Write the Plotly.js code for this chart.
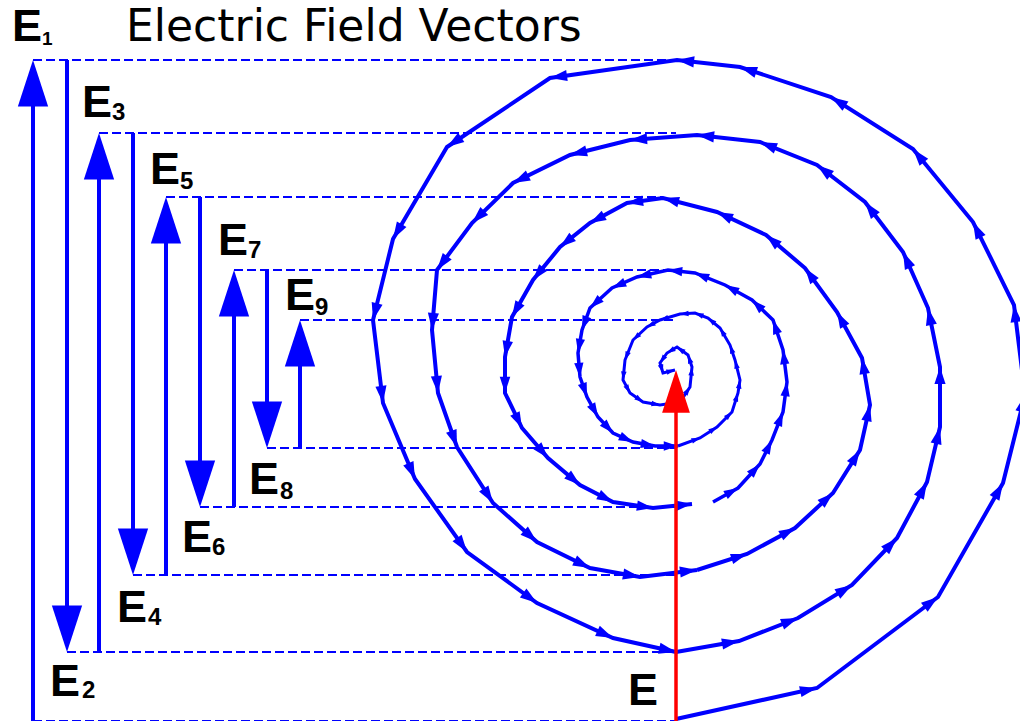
<!DOCTYPE html>
<html><head><meta charset="utf-8">
<script src="https://cdn.plot.ly/plotly-3.0.1.min.js"></script>
<style>html,body{margin:0;padding:0;background:#fff}#chart{width:1020px;height:721px}</style>
</head><body><div id="chart"></div>
<script>
// ---- data (diagram coordinates, pixel-like units) ----
const titleText = 'Electric Field Vectors';
const fieldNames = ['1', '2', '3', '4', '5', '6', '7', '8', '9'];
const fieldColumnX = [33, 67, 99, 133, 166, 200, 234, 267, 300];
const fieldLevels = [721, 60, 652, 133, 575, 197, 507, 270, 448, 320];
const projectionEndX = [677, 676, 676, 676, 663, 676, 668, 676, 676];
const spiralAxisX = 676;

const loop1X = [676, 817, 938, 1003, 1025, 1014, 973, 913, 831, 740, 677, 550, 447, 393, 373, 383, 415, 467, 537, 613, 676];
const loop1Y = [719, 688, 597, 483, 395, 305, 222, 149, 97, 67, 60, 78, 147, 239, 320, 403, 479, 552, 603, 638, 652];
const loop2X = [676, 739, 798, 852, 897, 927, 940, 940, 928, 903, 865, 817, 760, 697, 630, 570, 513, 472, 437, 432, 438, 457, 493, 537, 590, 640, 697];
const loop2Y = [652, 641, 618, 585, 538, 482, 427, 367, 308, 252, 202, 165, 142, 135, 140, 155, 183, 223, 270, 330, 393, 447, 503, 542, 568, 577, 570];
const loop3X = [697, 747, 795, 833, 860, 870, 862, 837, 805, 766, 717, 663, 627, 590, 560, 533, 512, 505, 505, 522, 548, 580, 613, 653, 692];
const loop3Y = [570, 554, 528, 493, 450, 405, 358, 312, 268, 235, 212, 198, 203, 223, 247, 280, 317, 357, 393, 428, 458, 485, 502, 508, 504];
const loop4X = [713, 738, 760, 772, 783, 787, 783, 773, 752, 725, 695, 668, 637, 612, 590, 582, 578, 580, 587, 598, 613, 633, 655, 678];
const loop4Y = [502, 488, 464, 440, 412, 382, 350, 320, 300, 285, 273, 270, 277, 288, 308, 330, 353, 377, 397, 417, 433, 442, 446, 446];
const loop5X = [678, 700, 717, 732, 738, 740, 735, 730, 720, 708, 695, 680, 660, 647, 633, 625, 623, 630, 643, 660, 680, 690, 692, 688, 677, 667, 660, 663, 675];
const loop5Y = [446, 438, 427, 412, 393, 380, 360, 345, 328, 318, 313, 314, 320, 327, 340, 360, 380, 393, 402, 405, 402, 387, 367, 355, 347, 353, 363, 373, 370];

const resultantX = [676, 676];
const resultantY = [721, 370];

// label placement (centres of the letter E and of the index digit)
const labelEX = [27, 65, 96.5, 131.5, 165, 196.5, 233, 263.5, 300];
const labelEY = [25.5, 680, 101, 606.5, 168.5, 536.5, 239, 478.5, 294.5];
const labelDX = [47.5, 88.5, 118.5, 154.5, 186.5, 218.5, 254, 286, 321.5];
const labelDY = [38, 689, 111.5, 616, 180, 546, 249, 490, 306];

// ---- drawing ----
const BLUE = '#0000ff';
const FONT = 'Liberation Sans, Arial, Helvetica, sans-serif';
const traces = [];

// dashed projection lines
for (let i = 0; i < fieldColumnX.length; i++) {
  traces.push({x: [fieldColumnX[i], projectionEndX[i]], y: [fieldLevels[i + 1], fieldLevels[i + 1]],
    mode: 'lines', line: {color: BLUE, width: 2, dash: '9px,4px'}, hoverinfo: 'skip'});
}
traces.push({x: [fieldColumnX[0], spiralAxisX], y: [fieldLevels[0], fieldLevels[0]],
  mode: 'lines', line: {color: BLUE, width: 2, dash: '9px,4px'}, hoverinfo: 'skip'});

// field vectors E1..E9
for (let i = 0; i < fieldColumnX.length; i++) {
  traces.push({x: [fieldColumnX[i], fieldColumnX[i]], y: [fieldLevels[i], fieldLevels[i + 1]],
    mode: 'lines+markers', line: {color: BLUE, width: 4},
    marker: {symbol: 'arrow', angleref: 'previous', size: 49, color: BLUE, line: {width: 0}},
    hoverinfo: 'skip'});
}

// spiral
const loops = [[loop1X, loop1Y, 4, 18], [loop2X, loop2Y, 4, 18], [loop3X, loop3Y, 4, 17],
               [loop4X, loop4Y, 3.5, 15], [loop5X, loop5Y, 3, 9]];
loops.forEach(([lx, ly, w, s]) => {
  traces.push({x: lx, y: ly, mode: 'lines+markers', line: {color: BLUE, width: w, backoff: 0},
    marker: {symbol: 'arrow', angleref: 'previous', size: s, color: BLUE, line: {width: 0}},
    hoverinfo: 'skip'});
});

// resultant E (red)
traces.push({x: resultantX, y: resultantY, mode: 'lines+markers', line: {color: '#ff0000', width: 3.5},
  marker: {symbol: 'arrow', angleref: 'previous', size: 45, color: '#ff0000', line: {width: 0}},
  hoverinfo: 'skip'});

const annotations = [];
annotations.push({x: 124, y: 25.5, xref: 'x', yref: 'y', xanchor: 'left', yanchor: 'middle',
  text: titleText, showarrow: false, font: {family: 'DejaVu Sans, sans-serif', size: 44, color: '#000'}});
for (let i = 0; i < fieldNames.length; i++) {
  annotations.push({x: labelEX[i], y: labelEY[i], xref: 'x', yref: 'y', xanchor: 'center', yanchor: 'middle',
    text: '<b>E</b>', showarrow: false, font: {family: FONT, size: 45, color: '#000'}});
  annotations.push({x: labelDX[i], y: labelDY[i], xref: 'x', yref: 'y', xanchor: 'center', yanchor: 'middle',
    text: '<b>' + fieldNames[i] + '</b>', showarrow: false, font: {family: FONT, size: i === 0 ? 19 : 24, color: '#000'}});
}
annotations.push({x: 642.5, y: 689, xref: 'x', yref: 'y', xanchor: 'center', yanchor: 'middle',
  text: '<b>E</b>', showarrow: false, font: {family: FONT, size: 45, color: '#000'}});

const layout = {
  width: 1020, height: 721, margin: {l: 0, r: 0, t: 0, b: 0, pad: 0},
  paper_bgcolor: '#fff', plot_bgcolor: '#fff', showlegend: false,
  xaxis: {range: [0, 1020], visible: false, fixedrange: true},
  yaxis: {range: [721, 0], visible: false, fixedrange: true},
  annotations: annotations
};
Plotly.newPlot('chart', traces, layout, {displayModeBar: false, staticPlot: true});
</script></body></html>
